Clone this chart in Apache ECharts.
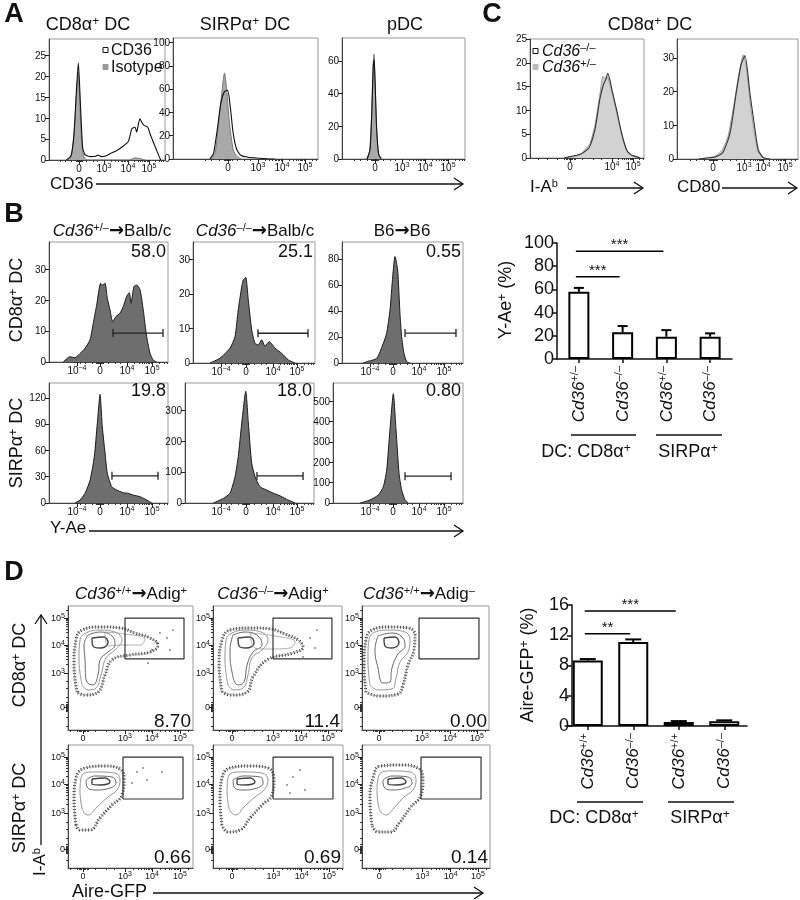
<!DOCTYPE html>
<html><head><meta charset="utf-8">
<script src="https://cdn.jsdelivr.net/npm/echarts@6/dist/echarts.min.js"></script>
<style>html,body{margin:0;padding:0;background:#fff}#c{width:800px;height:900px}</style>
</head><body><div id="c"></div>
<script>
const FONT = '"Liberation Sans", Arial, Helvetica, sans-serif';

// ---------- DATA (x: display channel 0-1000 on biexponential axis; y: events) ----------
// Panel A
const aCd8Cd36 = [[150,0],[190,1],[215,6],[235,16],[253,23.3],[270,14],[290,3],[310,1.3],[360,0.8],[400,0.9],[422,1.2],[450,0.8],[500,1.1],[526,1.5],[586,2.3],[638,3.3],[681,4.3],[700,6],[713,7.5],[741,7.9],[756,6.7],[770,8.5],[784,9.9],[800,9],[819,8.3],[851,7.9],[871,6.3],[899,4.3],[934,1.9],[963,0]];
const aCd8Iso  = [[160,0],[195,1.5],[220,8],[240,17],[253,21],[268,12],[285,3],[305,0.5],[330,0],[690,0],[740,0.5],[790,0.3],[830,0]];
const aSirpCd36 = [[255,0],[280,5],[305,25],[330,48],[355,58],[377,59],[395,45],[415,22],[440,8],[470,3],[520,1.5],[580,0.8],[650,0.2],[700,0]];
const aSirpIso  = [[260,0],[290,5],[310,25],[335,55],[355,74],[370,60],[390,30],[415,8],[440,2],[470,0]];
const aPdcCd36 = [[205,0],[228,6],[242,28],[253,55],[261,61],[270,45],[282,18],[298,3],[320,0]];
const aPdcIso  = [[200,0],[225,5],[240,25],[252,55],[260,64],[268,50],[280,20],[295,4],[315,0]];
const aTickCd8  = [[259,'0'],[474,'10^3^'],[681,'10^4^'],[862,'10^5^']];
const aTickSirp = [[379,'0'],[586,'10^3^'],[752,'10^4^'],[910,'10^5^']];
const aTickPdc  = [[268,'0'],[488,'10^3^'],[675,'10^4^'],[862,'10^5^']];
const aYCd8 = [0,5,10,15,20,25], aYSirp = [0,20,40,60,80,100], aYPdc = [0,20,40,60];

// Panel C
const cIabKo  = [[300,0],[350,0.3],[440,0.8],[490,1.5],[526,2.5],[570,6],[614,12.5],[645,15.5],[665,16.5],[682,17.8],[700,16.5],[717,14.5],[761,10],[804,5.2],[848,1.7],[890,0.6],[940,0.2],[965,0]];
const cIabHet = [[300,0],[380,0.3],[440,0.7],[490,2],[526,3],[570,7],[614,13.5],[640,17.2],[660,16.8],[680,17],[700,15.5],[717,14],[761,9.5],[804,4.8],[848,1.5],[890,0.6],[940,0.3],[965,0]];
const cCd80Ko  = [[180,0],[250,0.3],[314,0.6],[380,2],[438,7.6],[493,20.5],[530,28],[562,30.7],[603,19.5],[645,8.6],[672,2.7],[711,0.5],[769,0]];
const cCd80Het = [[180,0],[250,0.4],[314,0.8],[370,2.5],[420,6.5],[470,16],[510,25],[548,30.9],[575,27],[603,17],[645,6.5],[672,2],[711,0.3],[769,0]];
const cTickIab  = [[351,'0'],[719,'10^4^'],[904,'10^5^']];
const cTickCd80 = [[298,'0'],[554,'10^3^'],[711,'10^4^'],[893,'10^5^']];
const cYIab = [0,5,10,15,20,25], cYCd80 = [0,10,20,30];

// Panel B
const bCd8Het = [[120,0],[176,1.7],[218,1.4],[261,2.8],[303,4.5],[345,7.2],[372,12.6],[401,18.6],[434,25.6],[451,25],[471,25.6],[490,20.7],[513,16.9],[535,13.1],[563,14.8],[597,15.9],[624,18],[653,21.4],[675,22.5],[689,19.1],[714,24.5],[737,25],[765,23.5],[792,16.9],[821,8.2],[849,2.8],[876,0.6],[905,0]];
const bCd8Ko  = [[139,0],[221,1.4],[303,4.3],[344,7.6],[371,15.4],[399,22],[412,24],[432,24.8],[453,18.3],[481,9.6],[508,5.7],[535,5.2],[563,6.7],[590,4.9],[625,6.2],[672,4.3],[727,2.8],[781,0.9],[836,0]];
const bCd8B6  = [[174,0],[204,1],[287,3.6],[341,15],[369,22.8],[397,40.8],[419,66.4],[438,81.8],[460,71.5],[479,38.2],[493,20.2],[512,7.5],[535,1],[562,0]];
const bSirpHet = [[218,0],[261,3.4],[303,11],[345,26],[381,53],[406,91],[429,124],[448,87],[471,57],[490,34],[527,18.6],[569,14.8],[624,11.8],[666,11],[708,9],[765,7.2],[821,3.4],[863,0]];
const bSirpKo  = [[219,0],[297,15],[349,32],[388,86],[413,151],[440,260],[471,363],[491,260],[517,129],[543,86],[581,53],[633,42],[684,32],[723,26],[788,12],[853,0]];
const bSirpB6  = [[208,0],[285,15],[348,39],[387,80],[413,162],[438,358],[464,537],[485,358],[508,146],[528,64],[554,15],[579,0]];
const bGates = [[538,958,9.4],[533,943,8.6],[521,942,23],[529,916,31],[558,915,88],[554,908,132]]; // [from, to, height]
const bPct = ['58.0','25.1','0.55','19.8','18.0','0.80'];
const bTick1 = [[235,'10^−4^'],[429,'0'],[655,'10^4^'],[866,'10^5^']];
const bTick2 = [[230,'10^−4^'],[434,'0'],[656,'10^4^'],[852,'10^5^']];
const bTick3 = [[231,'10^−4^'],[421,'0'],[636,'10^4^'],[843,'10^5^']];
const bTick5 = [[279,'10^−4^'],[473,'0'],[682,'10^4^'],[868,'10^5^']];
const bTick6 = [[285,'10^−4^'],[462,'0'],[662,'10^4^'],[854,'10^5^']];
const bY1 = [0,10,20,30], bY2 = [0,10,20,30], bY3 = [0,20,40,60,80], bY4 = [0,30,60,90,120], bY5 = [0,100,200,300], bY6 = [0,100,200,300,400,500];

// Y-Ae+ bar chart
const yaeCats = ['_Cd36_^+/–^','_Cd36_^–/–^','_Cd36_^+/–^','_Cd36_^–/–^'];
const yaeMean = [57.9, 23.0, 19.2, 19.2];
const yaeSem  = [3.4, 5.4, 5.7, 2.9];
const yaeSig  = [[0,2,92.8,'***'],[0,1,70.8,'***']];

// Aire-GFP+ bar chart
const aireCats = ['_Cd36_^+/+^','_Cd36_^–/–^','_Cd36_^+/+^','_Cd36_^–/–^'];
const aireMean = [8.65, 11.1, 0.53, 0.62];
const aireSem  = [0.2, 0.35, 0.12, 0.13];
const aireSig  = [[0,2,15.2,'***'],[0,1,12.2,'**']];

// Panel D contour plots (x: Aire-GFP channel, y: I-Ab channel, both 0-1000)
const dTickX1 = [[120,'0'],[456,'10^3^'],[672,'10^4^'],[896,'10^5^']];
const dTickX2 = [[147,'0'],[465,'10^3^'],[682,'10^4^'],[891,'10^5^']];
const dTickX3 = [[134,'0'],[472,'10^3^'],[693,'10^4^'],[906,'10^5^']];
const dTickY1 = [[185,'0'],[460,'10^3^'],[685,'10^4^'],[903,'10^5^']];
const dTickY2 = [[154,'0'],[447,'10^3^'],[683,'10^4^'],[902,'10^5^']];
const dGates = [[456,928,573,903],[465,922,573,903],[449,921,573,903],[440,920,561,902],[462,923,561,902],[461,930,561,902]];
const dPct = ['8.70','11.4','0.00','0.66','0.69','0.14'];
const d1Outer = [[72,306],[48,524],[64,726],[112,806],[256,831],[416,823],[536,782],[656,742],[720,685],[656,629],[496,605],[352,565],[296,444],[240,306],[136,282]];
const d1Mid   = [[112,363],[88,565],[96,726],[144,782],[256,806],[376,790],[432,726],[376,645],[304,581],[264,444],[224,339],[160,323]];
const d1Core  = [[160,766],[256,790],[352,758],[376,685],[320,629],[256,565],[240,444],[200,363],[144,403],[136,565],[128,685]];
const d1Inner = [[192,742],[288,750],[320,702],[256,661],[200,677]];
const d1Ext   = [[296,790],[456,774],[616,734],[576,685],[416,685],[320,677]];
const d2Outer = [[70,306],[47,524],[70,726],[132,806],[287,823],[442,815],[558,774],[659,726],[698,669],[620,621],[419,565],[310,427],[264,306],[147,282]];
const d2Mid   = [[116,363],[93,565],[101,726],[147,782],[256,806],[372,790],[426,726],[380,645],[302,581],[271,444],[233,339],[163,323]];
const d2Core  = [[155,766],[248,790],[349,758],[380,685],[310,629],[264,524],[240,387],[194,363],[147,468],[132,645]];
const d2Inner = [[194,742],[287,750],[318,702],[256,661],[202,677]];
const d2Ext   = [[287,782],[481,758],[636,710],[597,661],[426,653],[326,661]];
const d3Outer = [[31,306],[16,524],[31,726],[79,806],[220,831],[362,823],[417,766],[409,645],[362,524],[323,363],[283,290],[142,274],[63,290]];
const d3Mid   = [[63,363],[47,565],[55,726],[102,790],[220,806],[339,790],[378,726],[362,629],[299,548],[268,419],[236,331],[126,323]];
const d3Core  = [[126,758],[236,782],[315,750],[339,677],[283,613],[236,500],[220,387],[165,379],[126,500],[102,645]];
const d3Inner = [[173,742],[260,750],[291,702],[236,661],[181,677]];
const d4Outer = [[64,350],[48,553],[64,732],[136,813],[296,829],[416,805],[448,715],[432,593],[352,512],[256,407],[176,309],[96,309]];
const d4Mid   = [[96,634],[112,756],[216,781],[376,772],[416,715],[392,634],[320,577],[232,496],[160,431],[112,488]];
const d4Core  = [[144,715],[216,748],[352,740],[384,691],[336,650],[216,634],[152,659]];
const d4Inner = [[192,724],[296,732],[336,699],[256,675],[192,683]];
const d5Outer = [[69,350],[54,553],[69,732],[131,813],[285,829],[423,813],[469,715],[454,593],[377,512],[285,407],[208,309],[115,293]];
const d5Mid   = [[108,634],[123,756],[231,781],[377,772],[423,715],[392,634],[323,577],[238,496],[177,431],[123,488]];
const d5Core  = [[154,715],[231,748],[362,740],[385,691],[338,650],[223,634],[162,659]];
const d5Inner = [[185,724],[285,732],[323,699],[246,675],[185,683]];
const d6Outer = [[78,350],[62,553],[86,732],[141,829],[297,837],[437,813],[476,715],[461,593],[375,488],[297,374],[219,293],[125,293]];
const d6Mid   = [[117,634],[133,756],[234,789],[375,781],[422,715],[398,634],[328,577],[250,488],[187,431],[133,488]];
const d6Core  = [[164,715],[234,748],[359,740],[391,691],[336,650],[234,634],[172,659]];
const d6Inner = [[203,724],[305,732],[344,699],[266,675],[203,683]];
// sparse events outside the contours
const d1Events = [[736,782],[792,742],[672,645],[712,702],[840,806],[640,540],[816,645]];
const d2Events = [[752,742],[791,661],[698,589],[806,806]];
const d4Events = [[552,780],[632,715],[752,780],[512,691],[600,813]];
const d5Events = [[615,740],[669,797],[569,675],[708,634],[592,610]];

// ---------- HELPERS ----------
const opt = {animation:false, backgroundColor:'#fff', grid:[], xAxis:[], yAxis:[], series:[], graphic:[]};

function richStr(str){
  const parts = String(str).split(/(\^[^\^]*\^|_[^_]*_|→)/).filter(s=>s.length);
  let t='';
  for (const p of parts){
    if (p==='→') t += '{a|→}';
    else if (p.length>1 && p[0]==='^' && p[p.length-1]==='^') t += '{s|'+p.slice(1,-1)+'}';
    else if (p.length>1 && p[0]==='_' && p[p.length-1]==='_') t += '{i|'+p.slice(1,-1)+'}';
    else t += '{n|'+p+'}';
  }
  return t;
}
function richSet(fs, o={}){
  const lh = Math.round(fs*1.08);
  const ss = Math.max(7, Math.round(fs*0.66));
  const base = {fontSize:fs, fontFamily:FONT, fontWeight:o.bold?'bold':'normal', color:'#111', fill:'#111', lineHeight:lh, verticalAlign:'bottom'};
  return {n:base,
    i:Object.assign({}, base, {fontStyle:'italic'}),
    a:Object.assign({}, base, {fontWeight:'bold', fontSize:Math.round(fs*1.05), fontFamily:'"DejaVu Sans", sans-serif'}),
    s:Object.assign({}, base, {fontSize:ss, lineHeight:ss, verticalAlign:'top'})};
}
function T(x, y, str, fs, o={}){
  opt.graphic.push({type:'text', x, y, rotation:o.rot||0, z:100, silent:true,
    style:{text:richStr(str), rich:richSet(fs,o), align:o.align||'center', verticalAlign:o.va||'middle',
      textAlign:o.align||'center', textVerticalAlign:o.va||'middle', fill:'#111', font:(o.bold?'bold ':'')+fs+'px '+FONT}});
}
function L(x1,y1,x2,y2,w,c){
  opt.graphic.push({type:'line', z:100, silent:true, shape:{x1,y1,x2,y2}, style:{stroke:c||'#111', lineWidth:w||1.3}});
}
function arrowH(x1,x2,y){ L(x1,y,x2,y,1.3); opt.graphic.push({type:'polyline', z:100, silent:true, shape:{points:[[x2-9,y-6],[x2,y],[x2-9,y+6]]}, style:{stroke:'#111', lineWidth:1.3, fill:null}}); }
function arrowV(x,y1,y2){ L(x,y1,x,y2,1.3); opt.graphic.push({type:'polyline', z:100, silent:true, shape:{points:[[x-6,y2+9],[x,y2],[x+6,y2+9]]}, style:{stroke:'#111', lineWidth:1.3, fill:null}}); }
function box(x,y,s,fill,stroke){ opt.graphic.push({type:'rect', z:100, silent:true, shape:{x,y,width:s,height:s}, style:{fill:fill, stroke:stroke, lineWidth:1}}); }

function minorTicks(t){
  const zi = t.findIndex(d=>d[1]==='0'); const z = t[zi][0];
  const dec = t.slice(zi+1).map(d=>d[0]);
  const out=[];
  if (dec.length>=2){
    const step = dec[dec.length-1]-dec[dec.length-2];
    const ext = dec.concat([dec[dec.length-1]+step]);
    for (let i=0;i<ext.length-1;i++) for (let k=2;k<10;k++){ const p=ext[i]+Math.log10(k)*(ext[i+1]-ext[i]); if(p<1000) out.push(p); }
  }
  const gap = dec[0]-z;
  [0.03,0.06,0.09,0.13,0.3,0.55,0.75].forEach(k=>out.push(z+gap*k));
  [0.03,0.06,0.09,0.13,0.3,0.55,0.75].forEach(k=>{const p=z-gap*k; if(p>0) out.push(p);});
  return out;
}
function mkAxis(dim, g, min, max, t, fs){
  const vals = t.map(d=>d[0]);
  return {type:'value', gridIndex:g, min, max, position: dim==='x'?'bottom':'left',
    axisLine:{show:true, onZero:false, lineStyle:{color:'#444', width:1}},
    splitLine:{show:false},
    axisTick:{show:true, customValues:vals, length:4, lineStyle:{color:'#222', width:1}},
    axisLabel:{show:true, customValues:vals, margin:3, color:'#222',
      formatter: v => { const f = t.find(d=>Math.abs(d[0]-v)<1e-6); return f ? richStr(f[1]) : ''; },
      rich: richSet(fs)}};
}
function minorAxis(dim, g, min, max, m){
  return {type:'value', gridIndex:g, min, max, position: dim==='x'?'bottom':'left',
    axisLine:{show:false}, splitLine:{show:false}, axisLabel:{show:false},
    axisTick:{show:true, customValues:m, length:2, lineStyle:{color:'#333', width:1}}};
}
function frame(r, xt, yt, ymax, o={}){
  const g = opt.grid.length;
  opt.grid.push({left:r[0], top:r[1], width:r[2]-r[0], height:r[3]-r[1], show:true, borderColor:'#9a9a9a', borderWidth:1, backgroundColor:'rgba(0,0,0,0)'});
  const fs = o.fs||10;
  const xi = opt.xAxis.length;
  opt.xAxis.push(mkAxis('x', g, 0, 1000, xt, fs));
  opt.xAxis.push(minorAxis('x', g, 0, 1000, minorTicks(xt)));
  const yi = opt.yAxis.length;
  const ytt = yt.map(v => Array.isArray(v) ? v : [v, String(v)]);
  opt.yAxis.push(mkAxis('y', g, 0, ymax, ytt, fs));
  if (o.yMinor) opt.yAxis.push(minorAxis('y', g, 0, ymax, minorTicks(ytt)));
  return {xi, yi};
}
function hist(ax, data, st){
  opt.series.push({type:'line', xAxisIndex:ax.xi, yAxisIndex:ax.yi, data, symbol:'none', smooth:0.2, silent:true,
    lineStyle:{color:st.line, width:st.w||1}, areaStyle: st.fill ? {color:st.fill, opacity:1} : undefined, z:st.z||2});
}
function gateBar(ax, g){
  opt.series.push({type:'line', xAxisIndex:ax.xi, yAxisIndex:ax.yi, data:[[g[0],g[2]],[g[1],g[2]]], symbol:'rect', symbolSize:[1.3,8], silent:true,
    itemStyle:{color:'#222'}, lineStyle:{color:'#222', width:1.4}, z:5});
}
const close = a => a.concat([a[0]]);
function contour(ax, pts, c, w, type, z){
  opt.series.push({type:'line', xAxisIndex:ax.xi, yAxisIndex:ax.yi, data:close(pts), symbol:'none', smooth:0.45, silent:true,
    lineStyle:{color:c, width:w, type:type||'solid'}, z:z||3});
}
function events(ax, pts){
  opt.series.push({type:'scatter', xAxisIndex:ax.xi, yAxisIndex:ax.yi, data:pts, symbol:'rect', symbolSize:1.6, silent:true,
    itemStyle:{color:'#444'}, z:3});
}
function gateBox(ax, g){
  opt.series.push({type:'line', xAxisIndex:ax.xi, yAxisIndex:ax.yi, data:[[g[0],g[2]],[g[1],g[2]],[g[1],g[3]],[g[0],g[3]],[g[0],g[2]]], symbol:'none', silent:true,
    lineStyle:{color:'#333', width:1.2}, z:5});
}
function barChart(r, cats, mean, sem, sig, ymax, yint, o){
  const g = opt.grid.length;
  opt.grid.push({left:r[0], top:r[1], width:r[2]-r[0], height:r[3]-r[1], show:false});
  const xi = opt.xAxis.length, yi = opt.yAxis.length;
  opt.xAxis.push({type:'category', gridIndex:g, data:cats, position:'bottom',
    axisLine:{show:true, lineStyle:{color:'#111', width:1.5}},
    axisTick:{show:true, alignWithLabel:true, length:4, lineStyle:{color:'#111', width:1.5}},
    axisLabel:{interval:0, rotate:90, margin:7, formatter: v => richStr(v), rich: richSet(17)}, splitLine:{show:false}});
  opt.yAxis.push({type:'value', gridIndex:g, min:0, max:ymax, interval:yint, position:'left', offset:o.yOffset||0,
    axisLine:{show:true, lineStyle:{color:'#111', width:1.5}}, axisTick:{show:true, length:5, lineStyle:{color:'#111', width:1.5}},
    axisLabel:{fontSize:o.yfs||18, color:'#111', fontFamily:FONT, margin:3}, splitLine:{show:false}});
  opt.series.push({type:'bar', xAxisIndex:xi, yAxisIndex:yi, data:mean, barWidth:o.barWidth, silent:true,
    itemStyle:{color:'#fff', borderColor:'#000', borderWidth:2}, z:2});
  const cw = o.cap;
  opt.series.push({type:'custom', xAxisIndex:xi, yAxisIndex:yi, silent:true, clip:false, z:3,
    data: mean.map((v,i)=>[i, v, sem[i]]), encode:{x:0, y:1},
    renderItem:(p, api)=>{
      const x=api.value(0), v=api.value(1), e=api.value(2);
      const p0=api.coord([x,v]), p1=api.coord([x,v+e]);
      return {type:'group', children:[
        {type:'line', shape:{x1:p0[0],y1:p0[1],x2:p1[0],y2:p1[1]}, style:{stroke:'#000', lineWidth:2}},
        {type:'line', shape:{x1:p1[0]-cw/2,y1:p1[1],x2:p1[0]+cw/2,y2:p1[1]}, style:{stroke:'#000', lineWidth:2}}]};
    }});
  opt.series.push({type:'custom', xAxisIndex:xi, yAxisIndex:yi, silent:true, clip:false, z:3,
    data: sig.map(s=>[s[0], s[1], s[2]]), encode:{x:[0,1], y:2},
    renderItem:(p, api)=>{
      const a=api.coord([api.value(0), api.value(2)]), b=api.coord([api.value(1), api.value(2)]);
      return {type:'group', children:[
        {type:'line', shape:{x1:a[0]-3,y1:a[1],x2:b[0]-3,y2:b[1]}, style:{stroke:'#000', lineWidth:1.5}},
        {type:'text', x:(a[0]+b[0])/2-3, y:a[1]-6, style:{text:sig[p.dataIndex][3], fill:'#111', font:'15px '+FONT, align:'center', verticalAlign:'middle'}}]};
    }});
}

// ---------- PANEL A ----------
let ax;
ax = frame([49,39,165,160], aTickCd8, aYCd8, 29);
hist(ax, aCd8Iso, {line:'#777', fill:'#a9a9a9', z:2});
hist(ax, aCd8Cd36, {line:'#111', w:1.1, z:3});
ax = frame([173,38,318,159], aTickSirp, aYSirp, 104);
hist(ax, aSirpIso, {line:'#777', fill:'#a9a9a9', z:2});
hist(ax, aSirpCd36, {line:'#111', w:1.1, z:3});
ax = frame([342,38,465,159], aTickPdc, aYPdc, 74);
hist(ax, aPdcIso, {line:'#777', fill:'#a9a9a9', z:2});
hist(ax, aPdcCd36, {line:'#111', w:1.1, z:3});

// ---------- PANEL C ----------
ax = frame([530,39,644,158], cTickIab, cYIab, 25);
hist(ax, cIabHet, {line:'#999', fill:'#d2d2d2', z:2});
hist(ax, cIabKo, {line:'#333', w:1.1, z:3});
ax = frame([677,39,798,159], cTickCd80, cYCd80, 35.6);
hist(ax, cCd80Het, {line:'#999', fill:'#d2d2d2', z:2});
hist(ax, cCd80Ko, {line:'#333', w:1.1, z:3});

// ---------- PANEL B ----------
const bRects = [[49,242,168,362],[193,242,315,363],[342,242,463,363],[49,383,168,503],[185,383,314,503],[333,383,463,503]];
const bData = [bCd8Het, bCd8Ko, bCd8B6, bSirpHet, bSirpKo, bSirpB6];
const bTicks = [bTick1, bTick2, bTick3, bTick1, bTick5, bTick6];
const bYs = [bY1, bY2, bY3, bY4, bY5, bY6];
const bMax = [39, 35, 93, 137, 390, 590];
bRects.forEach((r,i)=>{
  const a = frame(r, bTicks[i], bYs[i], bMax[i]);
  hist(a, bData[i], {line:'#1a1a1a', fill:'#6e6e6e', w:1});
  gateBar(a, bGates[i]);
  T(r[2]-2, i<3 ? 252 : 391, bPct[i], 18, {align:'right'});
});

// ---------- PANEL D ----------
const dRects = [[68,606,193,730],[213,606,342,730],[362,606,489,730],[68,745,193,868],[213,745,343,868],[362,745,490,868]];
const dTX = [dTickX1, dTickX2, dTickX3, dTickX1, dTickX2, dTickX3];
const dTY = [dTickY1, dTickY1, dTickY1, dTickY2, dTickY2, dTickY2];
const dCont = [
  [d1Outer, d1Mid, d1Core, d1Inner, d1Ext],
  [d2Outer, d2Mid, d2Core, d2Inner, d2Ext],
  [d3Outer, d3Mid, d3Core, d3Inner],
  [d4Outer, d4Mid, d4Core, d4Inner],
  [d5Outer, d5Mid, d5Core, d5Inner],
  [d6Outer, d6Mid, d6Core, d6Inner]];
const dEv = [d1Events, d2Events, null, d4Events, d5Events, null];
dRects.forEach((r,i)=>{
  const a = frame(r, dTX[i], dTY[i], 1000, {fs:9, yMinor:true});
  const c = dCont[i];
  contour(a, c[0], '#333', 3, [1,2], 3);
  contour(a, c[0], '#999', 0.8, 'solid', 3);
  contour(a, c[1], '#8a8a8a', 0.9, 'solid', 3);
  contour(a, c[2], '#6a6a6a', 1, 'solid', 3);
  contour(a, c[3], '#444', 1.4, 'solid', 3);
  if (c[4]) contour(a, c[4], '#9a9a9a', 0.8, 'solid', 3);
  if (dEv[i]) events(a, dEv[i]);
  gateBox(a, dGates[i]);
  T(r[2]-2, i<3 ? 721 : 857, dPct[i], 19, {align:'right'});
});

// ---------- BAR CHARTS ----------
barChart([557,243,732,359], yaeCats, yaeMean, yaeSem, yaeSig, 100, 20, {barWidth:21, cap:10, yfs:18});
barChart([565,605,747,726], aireCats, aireMean, aireSem, aireSig, 16, 4, {barWidth:30, cap:16, yfs:18, yOffset:-7});

// ---------- TEXT / DECORATION ----------
T(14,14,'A',27,{bold:true}); T(14,214,'B',27,{bold:true}); T(492,14,'C',27,{bold:true}); T(14,572,'D',27,{bold:true});
T(88,25,'CD8α^+^ DC',18); T(245,25,'SIRPα^+^ DC',18); T(405,25,'pDC',18);
box(103,47.5,5,'#fff','#111'); T(111,50,'CD36',16,{align:'left'});
box(103,64.5,5,'#999','#999'); T(111,67,'Isotype',16,{align:'left'});
T(50,184,'CD36',17,{align:'left'}); arrowH(96,463,184);
T(650,25,'CD8α^+^ DC',18);
box(533,48.5,5,'#fff','#111'); T(542,51,'_Cd36_^–/–^',16,{align:'left'});
box(533,64.5,5,'#bbb','#bbb'); T(542,67,'_Cd36_^+/–^',16,{align:'left'});
T(530,187,'I-A^b^',17,{align:'left'}); arrowH(567,643,188);
T(677,187,'CD80',17,{align:'left'}); arrowH(722,797,188);

T(112,231,'_Cd36_^+/–^→Balb/c',17); T(255,231,'_Cd36_^–/–^→Balb/c',17); T(402,231,'B6→B6',17);
T(17,300,'CD8α^+^ DC',18,{rot:Math.PI/2}); T(17,443,'SIRPα^+^ DC',18,{rot:Math.PI/2});
T(50,528,'Y-Ae',17,{align:'left'}); arrowH(89,463,531);

T(131,594,'_Cd36_^+/+^→Adig^+^',17); T(273,594,'_Cd36_^–/–^→Adig^+^',17); T(419,594,'_Cd36_^+/+^→Adig^–^',17);
T(20,665,'CD8α^+^ DC',18,{rot:Math.PI/2}); T(20,808,'SIRPα^+^ DC',18,{rot:Math.PI/2});
T(40,862,'I-A^b^',17,{rot:Math.PI/2}); arrowV(41,845,615);
T(72,892,'Aire-GFP',18,{align:'left'}); arrowH(153,483,893);

T(506,300,'Y-Ae^+^ (%)',18,{rot:Math.PI/2});
L(571,435,636,435,1.3); L(656,435,722,435,1.3);
T(586,452,'DC: CD8α^+^',18); T(688,452,'SIRPα^+^',18);
T(528,665,'Aire-GFP^+^ (%)',18,{rot:Math.PI/2});
L(577,802,643,802,1.3); L(668,802,734,802,1.3);
T(594,818,'DC: CD8α^+^',18); T(700,818,'SIRPα^+^',18);

const chart = echarts.init(document.getElementById('c'), null, {renderer:'canvas', width:800, height:900});
chart.setOption(opt);
</script></body></html>
